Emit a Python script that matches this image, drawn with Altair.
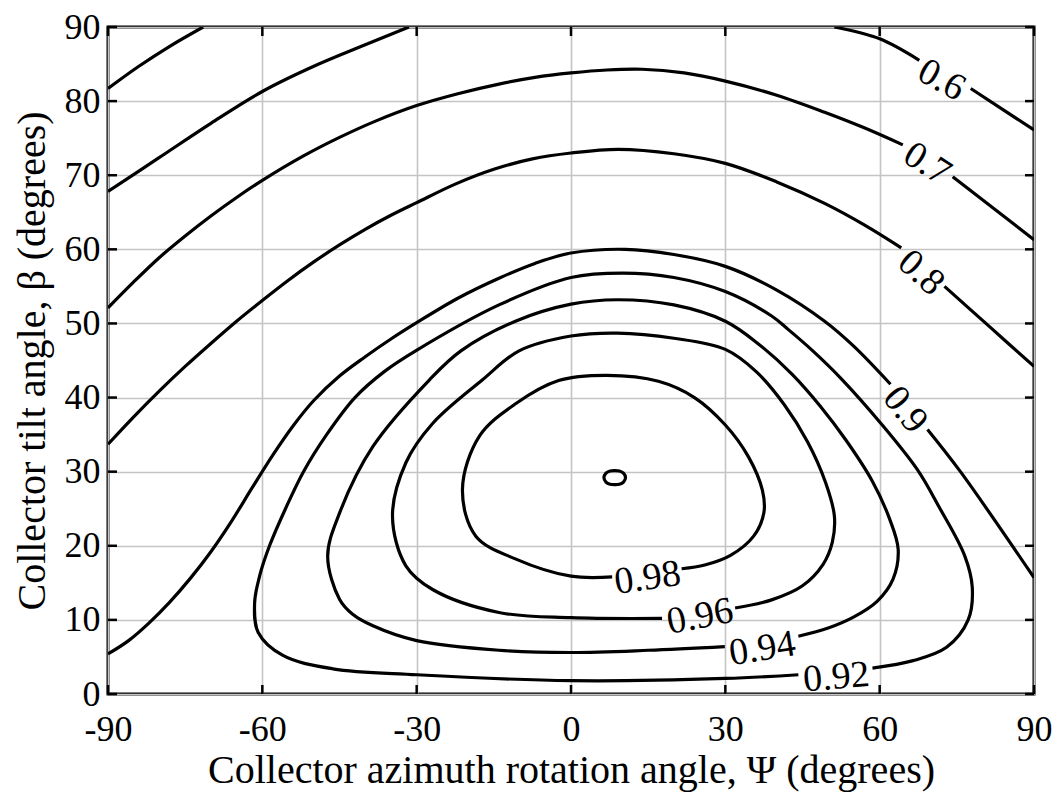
import altair as alt
import pandas as pd

# ---------------- data ----------------
x_ticks = [-90, -60, -30, 0, 30, 60, 90]
y_ticks = [0, 10, 20, 30, 40, 50, 60, 70, 80, 90]

# contour 0.5 (top-left corner)
c050_x = [-90, -84, -78, -71.5]
c050_y = [81.7, 84.7, 87.4, 90]
# contour 0.6, left part
c060a_x = [-90, -80, -70, -60, -50, -40, -31.5]
c060a_y = [67.8, 72.4, 77.0, 81.3, 84.7, 87.6, 90]
# contour 0.6, right part (split by its label)
c060b_x = [51.2, 60, 67.7]
c060b_y = [90, 88.4, 85.5]
c060c_x = [77.7, 90]
c060c_y = [81.7, 76.1]
# contour 0.7
c070a_x = [-90, -85, -80, -75, -70, -65, -60, -52, -45, -38, -30, -22, -14, -7, 0, 7, 13.8,
           22, 30, 40, 49.3, 57, 64.5]
c070a_y = [52.1, 55.6, 58.9, 61.8, 64.5, 67.0, 69.3, 72.6, 75.1, 77.3, 79.4, 81.0, 82.3, 83.2,
           83.8, 84.2, 84.3, 83.8, 82.7, 80.8, 78.5, 76.4, 74.1]
c070b_x = [74.2, 90]
c070b_y = [69.8, 61.3]
# contour 0.8
c080a_x = [-90, -85, -80, -75, -70, -65, -60, -55, -50, -45, -40, -35, -30, -22.5, -15, -7.5,
           0, 9.2, 20, 30, 40, 49.3, 57, 64.2]
c080a_y = [33.7, 37.4, 40.9, 44.2, 47.3, 50.3, 53.1, 55.8, 58.3, 60.6, 62.7, 64.6, 66.3, 68.8,
           70.8, 72.2, 73.0, 73.5, 72.9, 71.6, 69.1, 66.2, 63.3, 60.2]
c080b_x = [72.6, 81.3, 90]
c080b_y = [55, 49.6, 44.2]
# contour 0.9
c090a_x = [-90, -86, -82, -78, -74, -70, -66, -62, -58, -54, -50, -45, -40, -35, -30, -22, -14,
           -7, 0, 10.5, 20, 30, 40, 49.3, 55, 62.1]
c090a_y = [5.4, 7.2, 9.6, 12.4, 15.6, 19.2, 23.3, 27.8, 32.2, 36.2, 39.6, 42.9, 45.5, 47.9,
           50.1, 53.4, 56.1, 58.1, 59.5, 60, 59.3, 57.7, 54.5, 50.3, 46.9, 41.8]
c090b_x = [69.3, 75.7, 90]
c090b_y = [35.7, 30, 15.7]
# contour 0.92 (closed, opened at its label)
c092_x = [44.2, 30, 0, -30, -46.3, -56, -60.8, -61.5, -60.5, -58.6, -55.5, -52, -47.5, -42,
          -36.3, -30.2, -14, 0, 10, 20, 30, 39, 42.2, 47, 52.6, 60.5, 67.3, 71.5, 76.5, 78,
          77.2, 73, 66.5, 58.6]
c092_y = [2.6, 2.1, 1.8, 2.6, 3.4, 5.2, 8.3, 12.3, 16, 20, 25, 30, 35, 40,
          43.5, 46.3, 52.5, 56.2, 56.8, 56.2, 54.3, 51, 49.2, 46.3, 42.5, 36.3, 30.3, 25.3, 18.7,
          14.4, 10, 6.3, 4.5, 3.5]
# contour 0.94
c094_x = [29.9, 15, 0, -14, -30, -38.5, -42.5, -45, -47.3, -45, -38.5, -27.5, -21.4, -10.8, 0,
          9, 20, 30, 36.5, 42.9, 48.5, 53.5, 58.5, 62, 63.6, 62.6, 59.5, 55, 50, 44.2]
c094_y = [6.4, 5.9, 5.6, 5.9, 7.2, 9.2, 10.8, 12.8, 18.6, 24.4, 33.4, 42.4, 46.3, 50.3, 52.6,
          53.2, 52.5, 50.3, 47.2, 43.2, 38.8, 34.2, 28.8, 23.5, 19.5, 15.5, 12.5, 10.4, 8.9, 7.8]
# contour 0.96
c096_x = [17.7, 0, -14, -26.9, -32.1, -34.7, -32.1, -26.9, -17.2, -10.1, 0, 9, 20, 30, 36,
          41.5, 46, 49.5, 51.2, 50.8, 49, 45, 39, 31.9]
c096_y = [10.2, 10.3, 11.0, 14.1, 17.3, 24, 31.2, 36.5, 42.4, 46.3, 48.3, 48.7, 48.0, 46.5,
          43.5, 39, 34, 28.5, 24, 20.5, 17.5, 14.6, 12.7, 11.6]
# contour 0.98
c098_x = [8, 0, -10.7, -18.5, -21.1, -17.8, -10.7, -2.4, 7, 17, 24, 30, 34.5, 37.2, 37.5,
          35.5, 31, 26, 21.5]
c098_y = [15.8, 15.9, 18.2, 21.3, 27.6, 34.8, 39.2, 42.3, 43.0, 42.2, 40.0, 36.3, 32, 27.5,
          24.5, 21.3, 18.7, 17.4, 16.9]
# small closed loop at the maximum
loop_x = [6.4, 6.8, 7.6, 8.5, 9.4, 10.2, 10.6, 10.2, 9.4, 8.5, 7.6, 6.8]
loop_y = [29.2, 29.8, 30.1, 30.15, 30.1, 29.8, 29.2, 28.6, 28.3, 28.25, 28.3, 28.6]

label_text = ["0.6", "0.7", "0.8", "0.9", "0.98", "0.96", "0.94", "0.92"]
label_x = [72.0, 69.2, 68.0, 64.9, 14.9, 25.1, 37.2, 51.6]
label_y = [82.8, 71.5, 56.8, 38.3, 15.6, 10.4, 6.05, 2.2]
label_angle = [29, 33, 42, 51, 352, 349, 351, 355]

# ---------------- tables ----------------
segments = [
    ("c050", c050_x, c050_y), ("c060a", c060a_x, c060a_y), ("c060b", c060b_x, c060b_y),
    ("c060c", c060c_x, c060c_y), ("c070a", c070a_x, c070a_y), ("c070b", c070b_x, c070b_y),
    ("c080a", c080a_x, c080a_y), ("c080b", c080b_x, c080b_y), ("c090a", c090a_x, c090a_y),
    ("c090b", c090b_x, c090b_y), ("c092", c092_x, c092_y), ("c094", c094_x, c094_y),
    ("c096", c096_x, c096_y), ("c098", c098_x, c098_y),
]
rows = []
for name, xs_, ys_ in segments:
    for i, (a, b) in enumerate(zip(xs_, ys_)):
        rows.append({"seg": name, "i": i, "x": a, "y": b})
lines_df = pd.DataFrame(rows)
loop_df = pd.DataFrame({"x": loop_x, "y": loop_y, "i": list(range(len(loop_x)))})
labels_df = pd.DataFrame({"t": label_text, "x": label_x, "y": label_y, "angle": label_angle})
xt_df = pd.DataFrame({"x": x_ticks})
yt_df = pd.DataFrame({"y": y_ticks})

# ---------------- layout ----------------
W, H = 926, 667
FONT = "Liberation Serif"
TL = 9  # inward tick length

x_scale = alt.Scale(domain=[-90, 90], nice=False, zero=False)
y_scale = alt.Scale(domain=[0, 90], nice=False, zero=False)

x_axis = alt.Axis(values=x_ticks, labelExpr="toString(datum.value)", labelPadding=18,
                  labelFlush=False, labelOverlap=False,
                  title="Collector azimuth rotation angle, \u03a8 (degrees)",
                  titleX=W / 2, titleY=88, titleBaseline="alphabetic", titleAlign="center")
y_axis = alt.Axis(values=y_ticks, labelExpr="toString(datum.value)", labelPadding=8,
                  labelOverlap=False,
                  title="Collector tilt angle, \u03b2 (degrees)",
                  titleX=-64, titleY=H / 2, titleAngle=270, titleBaseline="alphabetic",
                  titleAlign="center")


def X():
    return alt.X("x:Q", scale=x_scale, axis=x_axis)


def Y():
    return alt.Y("y:Q", scale=y_scale, axis=y_axis)


lines = alt.Chart(lines_df).mark_line(
    color="black", strokeWidth=3.2, interpolate="catmull-rom", clip=True
).encode(x=X(), y=Y(), detail="seg:N", order="i:Q")

loop = alt.Chart(loop_df).mark_line(
    color="black", strokeWidth=3.2, interpolate="cardinal-closed"
).encode(x=X(), y=Y(), order="i:Q")

labels = alt.Chart(labels_df).mark_text(
    font=FONT, fontSize=38, color="black", align="center", baseline="middle"
).encode(x=X(), y=Y(), text="t:N", angle=alt.Angle("angle:Q", scale=None))

tick_style = dict(color="black", strokeWidth=2.5)
t_bottom = alt.Chart(xt_df).mark_rule(**tick_style).encode(
    x=X(), y=alt.value(H), y2=alt.value(H - TL))
t_top = alt.Chart(xt_df).mark_rule(**tick_style).encode(
    x=X(), y=alt.value(0), y2=alt.value(TL))
t_left = alt.Chart(yt_df).mark_rule(**tick_style).encode(
    y=Y(), x=alt.value(0), x2=alt.value(TL))
t_right = alt.Chart(yt_df).mark_rule(**tick_style).encode(
    y=Y(), x=alt.value(W), x2=alt.value(W - TL))

chart = alt.layer(lines, loop, labels, t_bottom, t_top, t_left, t_right).properties(
    width=W, height=H,
    autosize=alt.AutoSizeParams(type="none"),
    padding={"left": 100, "top": 19, "right": 20, "bottom": 100},
    background="white",
).configure_view(
    stroke="black", strokeWidth=3
).configure_axis(
    labelFont=FONT, titleFont=FONT, labelFontSize=36, titleFontSize=40,
    labelColor="black", titleColor="black", titleFontWeight="normal",
    domain=False, ticks=False, tickSize=0, grid=True,
    gridColor="#c4c4c4", gridWidth=1.6, gridOpacity=1,
)

chart.save("out.html", embed_options={"renderer": "svg", "actions": False})
